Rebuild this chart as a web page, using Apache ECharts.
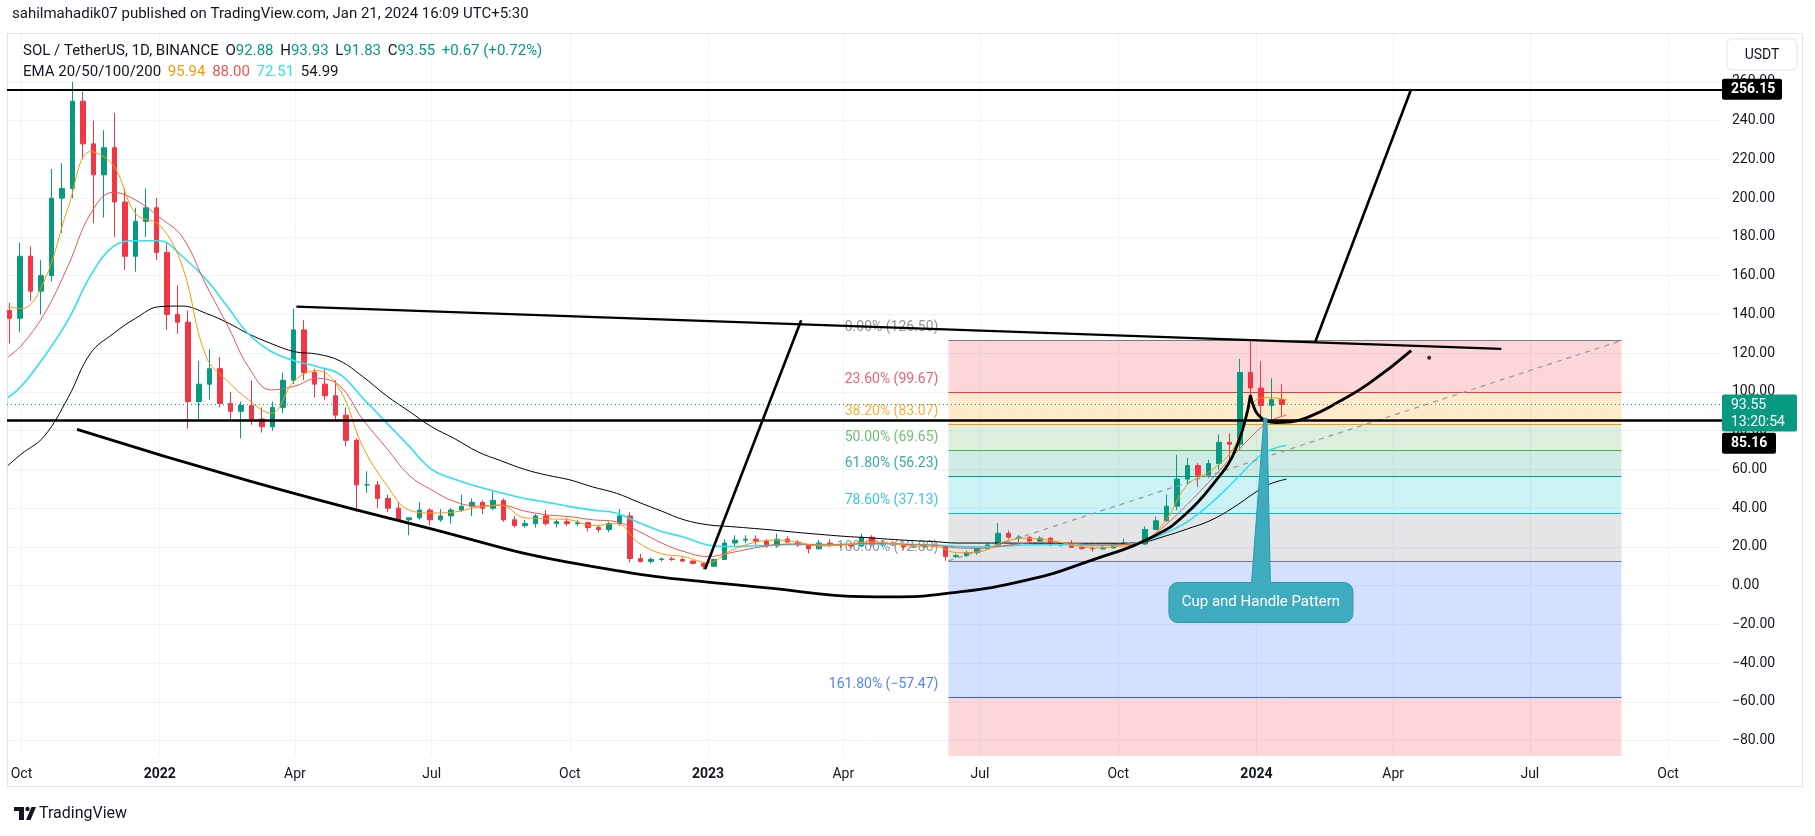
<!DOCTYPE html>
<html>
<head>
<meta charset="utf-8">
<title>SOL / TetherUS 1D</title>
<script src="https://cdn.jsdelivr.net/npm/echarts@6.0.0/dist/echarts.min.js"></script>
<style>
  html, body { margin: 0; padding: 0; background: #fff; }
  #chart { width: 1815px; height: 836px; }
</style>
</head>
<body>
<div id="chart"></div>
<script>
// weekly candles (mid-week date)
const weekDates = [
  '2021-09-23','2021-09-30','2021-10-07','2021-10-14','2021-10-21','2021-10-28','2021-11-04','2021-11-11','2021-11-18','2021-11-25','2021-12-02','2021-12-09','2021-12-16','2021-12-23','2021-12-30',
  '2022-01-06','2022-01-13','2022-01-20','2022-01-27','2022-02-03','2022-02-10','2022-02-17','2022-02-24','2022-03-03','2022-03-10','2022-03-17','2022-03-24','2022-03-31','2022-04-07','2022-04-14','2022-04-21','2022-04-28','2022-05-05','2022-05-12','2022-05-19','2022-05-26','2022-06-02','2022-06-09','2022-06-16','2022-06-23','2022-06-30','2022-07-07','2022-07-14','2022-07-21','2022-07-28','2022-08-04','2022-08-11','2022-08-18','2022-08-25','2022-09-01','2022-09-08','2022-09-15','2022-09-22','2022-09-29','2022-10-06','2022-10-13','2022-10-20','2022-10-27','2022-11-03','2022-11-10','2022-11-17','2022-11-24','2022-12-01','2022-12-08','2022-12-15','2022-12-22','2022-12-29',
  '2023-01-05','2023-01-12','2023-01-19','2023-01-26','2023-02-02','2023-02-09','2023-02-16','2023-02-23','2023-03-02','2023-03-09','2023-03-16','2023-03-23','2023-03-30','2023-04-06','2023-04-13','2023-04-20','2023-04-27','2023-05-04','2023-05-11','2023-05-18','2023-05-25','2023-06-01','2023-06-08','2023-06-15','2023-06-22','2023-06-29','2023-07-06','2023-07-13','2023-07-20','2023-07-27','2023-08-03','2023-08-10','2023-08-17','2023-08-24','2023-08-31','2023-09-07','2023-09-14','2023-09-21','2023-09-28','2023-10-05','2023-10-12','2023-10-19','2023-10-26','2023-11-02','2023-11-09','2023-11-16','2023-11-23','2023-11-30','2023-12-07','2023-12-14','2023-12-21','2023-12-28',
  '2024-01-04','2024-01-11','2024-01-18'
];
const opens = [
  142,138,170,152,160,200,205,250,228,212,226,198,170,188,195,
  172,140,136,95,104,112,94,90,93,86,82,92,106,132,110,104,98,88,75,52,52,45,40,34,35,39,34,36,39,41,43,40,44,34,31,32,36,32,33,32,32.5,30,29,32,36,14,12.5,13.5,13.8,13.5,12.7,11.5,
  10,13.5,22,23.5,24,23,20.5,24,22.5,21,19,22,21,21,20.5,25,21,22,21,20,20,21,20.5,15,15.5,17,19,21,27,25,25,23,24.5,21,21.5,19.8,19.2,19,19.5,21.5,22,21.5,29,33.5,41,55,62,57,63,74,73,110,
  102,93,96
];
const highs = [
  146,177,175,168,215,218,260,255,240,235,244,205,195,205,200,
  177,155,142,116,122,118,100,95,106,92,95,110,143,137,112,112,106,92,76,59,54,47,43,35,43,40,39.5,40,47,45,44,48.6,45,36,34,37,39,34,35,34,33,31,33,39.5,38,16.5,14.5,14.5,14.8,14.5,13,12,
  14,24,26,26,26,24,26.8,25.5,23.5,21.5,23.5,24,22,22,26.8,26,23.5,23,21.5,21,21.5,21.9,21,16.5,18,19.5,22,32.3,28.5,26,25.5,25.5,25,22,23.5,20.5,20,21,22,24.4,22.5,30.6,35.7,47,67.4,66,63.2,65,78,78.6,117,126.5,
  116,107,104
];
const lows = [
  125,131,147,140,157,182,200,220,187,190,180,163,162,180,168,
  132,130,81,86,96,92,86,76,83,79,80,89,104,106,97,96,85,72,38,48,40,38,33,26,34,31,33,32,38,36,37,39,33,30,30,30,31,30,31,31,28,27.5,27.5,31,12,12,11.5,12.5,12.8,12.5,11,8.5,
  9.8,13.5,20,22,21,19.5,19.5,22,20,16.7,18.8,20,19.5,19.5,20,20.5,20,20.5,18.8,19.5,19.5,19.8,12.8,14.3,15,16,18.5,20.5,24,22.5,22,22.5,20.5,20.2,19.5,18.5,17.6,18.5,19,21,20.5,21,28.8,33,39,52,51,55.5,60,64.9,70,95,
  86,84,87
];
const closes = [
  138,170,152,160,200,205,250,228,212,226,198,170,188,195,172,
  140,136,95,104,112,94,90,93,86,82,92,106,132,110,104,98,88,75,52,52,45,40,34,35,39,34,36,39,41,43,40,44,34,31,32,36,32,33,32,32.5,30,29,32,36,14,12.5,13.5,13.8,13.5,12.7,11.5,10,
  13.5,22,23.5,24,23,20.5,24,22.5,21,19,22,21,21,20.5,25,21,22,21,20,20,21,20.5,15,15.5,17,19,21,27,25,25,23,24.5,21,21.5,19.8,19.2,19,19.5,21.5,22,21.5,29,33.5,41,55,62,57,63,74,73,110,102,
  93,96,93.55
];

// EMA 20/50/100/200, read every half month
const emaDates = [
  '2021-09-22','2021-10-01','2021-10-16','2021-11-01','2021-11-16','2021-12-01','2021-12-16',
  '2022-01-01','2022-01-16','2022-02-01','2022-02-16','2022-03-01','2022-03-16','2022-04-01','2022-04-16','2022-05-01','2022-05-16','2022-06-01','2022-06-16','2022-07-01','2022-07-16','2022-08-01','2022-08-16','2022-09-01','2022-09-16','2022-10-01','2022-10-16','2022-11-01','2022-11-16','2022-12-01','2022-12-16',
  '2023-01-01','2023-01-16','2023-02-01','2023-02-16','2023-03-01','2023-03-16','2023-04-01','2023-04-16','2023-05-01','2023-05-16','2023-06-01','2023-06-16','2023-07-01','2023-07-16','2023-08-01','2023-08-16','2023-09-01','2023-09-16','2023-10-01','2023-10-16','2023-11-01','2023-11-16','2023-12-01','2023-12-16',
  '2024-01-01','2024-01-10','2024-01-21'
];
const ema20 = [
  144,143,157,195,224,217,192,
  186,165,118,105,96,89,106,111,101,72,52,39,37.5,38,40.5,41.5,35,34.5,34,31,32,22,16.5,15,
  11.8,18,22.3,23.5,22.5,20.5,21,22.5,22,20.5,20.3,17,17.5,22.5,24.5,23.5,21,19.5,20.3,22,33,52,59,70,
  96,97,95.94
];
const ema50 = [
  118,124,140,165,192,203,199,
  190,180,155,133,113,101,103,107,103,86,71,57,49.4,43.5,41,41.6,38.5,36.5,35.6,34,33,28,22,17.6,
  15,17,19.5,21.2,21.5,21,21.2,21.8,21.8,21.2,20.8,19.5,19.3,20.5,22,22.4,21.8,21,21.2,22,31,42,54,66.6,
  79.5,85,88
];
const ema100 = [
  97,103,118,137,160,175,178,
  178,170,158,143,130,121,116,113,109,97,84,72,60,55,51,48,45,43,40.8,39,37.4,32.5,28,25,
  21,20.2,20.5,21,21.3,21.2,21.3,21.5,21.5,21.3,21,20.3,20,20.5,21,21.2,21,20.8,21,22.5,27,33,42,53,
  65.5,70,72.51
];
const ema200 = [
  62,68,77,97,120,130,138,
  144,144.3,140.5,135.4,130,125,120.7,119.5,116,108,98,90,82,76,69,64.5,60,57,54.6,51,47.7,43,38.5,34,
  31.4,30.5,29.5,28.5,27.5,26.5,25.5,24.8,24,23.3,22.7,22,22,22,21.9,21.9,21.9,21.9,21.9,22.3,25.5,29.3,33.5,40,
  48.5,52.5,54.99
];

// Fibonacci retracement drawn from the Jun 2023 low to the Dec 2023 high
const fibStart = '2023-06-10';
const fibEnd = '2024-08-31';
const fibRatios = ['0.00%', '23.60%', '38.20%', '50.00%', '61.80%', '78.60%', '100.00%', '161.80%'];
const fibPrices = [126.50, 99.67, 83.07, 69.65, 56.23, 37.13, 12.80, -57.47];
const fibExtPrice = -171.17;   // 261.8% level, below the visible range

// hand drawn lines
const trendDates = ['2022-04-02', '2024-06-12'];
const trendValues = [144, 122.2];
const pole1Dates = ['2022-12-30', '2023-03-04'];
const pole1Values = [8.5, 137];
const pole2Dates = ['2024-02-09', '2024-04-13'];
const pole2Values = [125.5, 256.2];
const cupDates = ['2021-11-07','2022-03-02','2022-06-21','2022-10-10','2023-02-11','2023-05-02','2023-06-10','2023-08-01','2023-09-14','2023-10-24','2023-11-15','2023-12-07','2023-12-16','2023-12-24','2023-12-28'];
const cupValues = [80.7, 54, 31.3, 10.7, -1.3, -5.8, -3.9, 2.9, 13.3, 25.3, 37, 56.2, 66.6, 83.8, 98.4];
const handleDates = ['2023-12-28','2023-12-31','2024-01-03','2024-01-07','2024-01-14','2024-01-24','2024-02-06','2024-02-23','2024-03-16','2024-04-13'];
const handleValues = [98.4, 90.7, 87.6, 85.2, 84.2, 84.6, 87.5, 94.1, 104.4, 121.3];
const dotPoint = ['2024-04-25', 117.6];
const resistance = 256.15;
const support = 85.16;
const lastPrice = 93.55;
const calloutTip = ['2024-01-07', 86.4];
const calloutAt = ['2024-01-04', -8.7];

// axes
const priceTicks = [-80, -60, -40, -20, 0, 20, 40, 60, 80, 100, 120, 140, 160, 180, 200, 220, 240, 260];
const timeTicks = ['2021-10-01','2022-01-01','2022-04-01','2022-07-01','2022-10-01','2023-01-01','2023-04-01','2023-07-01','2023-10-01','2024-01-01','2024-04-01','2024-07-01','2024-10-01'];

const DAY = 86400000;
const MONTHS = ['Jan','Feb','Mar','Apr','May','Jun','Jul','Aug','Sep','Oct','Nov','Dec'];
const FONT = 'Roboto, "Noto Sans", sans-serif';
const TXT = '#131722';
const UP = '#089981', DOWN = '#f23645';
const fibColors = ['#787b86', '#f23645', '#ff9800', '#4caf50', '#089981', '#00bcd4', '#787b86', '#2962ff'];
const fibExtColor = '#f23645';

function ts(s) { const p = s.split('-').map(Number); return Date.UTC(p[0], p[1] - 1, p[2]); }
function fmtPrice(v) { return (v < 0 ? '\u2212' : '') + Math.abs(v).toFixed(2); }
function fade(hex, a) {
  const n = parseInt(hex.slice(1), 16);
  return 'rgba(' + (n >> 16) + ',' + ((n >> 8) & 255) + ',' + (n & 255) + ',' + a + ')';
}
function pairs(dates, values) { return dates.map((d, i) => [ts(d), values[i]]); }

const xMin = ts('2022-01-01') - 101.64 * DAY;
const xMax = ts('2022-01-01') + 1039.9 * DAY;
const yMin = -87.9, yMax = 284.7;

const chart = echarts.init(document.getElementById('chart'));

const candles = weekDates.map((d, i) => [ts(d), opens[i], closes[i], lows[i], highs[i]]);

// fib zones: each band takes the colour of its lower level
const fibZones = [];
for (let i = 0; i < fibPrices.length - 1; i++) {
  fibZones.push([
    { xAxis: ts(fibStart), yAxis: fibPrices[i], itemStyle: { color: fade(fibColors[i + 1], 0.2) } },
    { xAxis: ts(fibEnd), yAxis: fibPrices[i + 1] }
  ]);
}
fibZones.push([
  { xAxis: ts(fibStart), yAxis: fibPrices[fibPrices.length - 1], itemStyle: { color: fade(fibExtColor, 0.2) } },
  { xAxis: ts(fibEnd), yAxis: Math.max(fibExtPrice, yMin) }
]);
const fibLines = fibPrices.map((p, i) => [
  { coord: [ts(fibStart), p], lineStyle: { color: fibColors[i], width: 1, type: 'solid' } },
  { coord: [ts(fibEnd), p] }
]);
const fibLabels = fibPrices.map((p, i) => ({
  value: [ts(fibStart), p],
  label: { formatter: fibRatios[i] + ' (' + fmtPrice(p) + ')', color: fibColors[i] }
}));

function drawLine(dates, values, width, extra) {
  return Object.assign({
    type: 'line', data: pairs(dates, values), showSymbol: false, symbol: 'none', silent: true, z: 6,
    lineStyle: { color: '#000', width: width }
  }, extra || {});
}
function emaLine(values, color, width) {
  return {
    type: 'line', data: pairs(emaDates, values), showSymbol: false, symbol: 'none', silent: true,
    smooth: 0.4, z: 4, lineStyle: { color: color, width: width }
  };
}

chart.setOption({
  animation: false,
  backgroundColor: '#fff',
  grid: { left: 7, right: 93, top: 34, bottom: 80 },
  xAxis: {
    type: 'value', min: xMin, max: xMax,
    axisLine: { show: false }, axisTick: { show: false }, splitLine: { show: false },
    axisLabel: {
      customValues: timeTicks.map(ts), color: TXT, fontSize: 14, fontFamily: FONT, margin: 11,
      formatter: v => {
        const d = new Date(v);
        return d.getUTCMonth() === 0 ? '{y|' + d.getUTCFullYear() + '}' : MONTHS[d.getUTCMonth()];
      },
      rich: { y: { fontWeight: 'bold', color: TXT, fontSize: 14, fontFamily: FONT } }
    }
  },
  yAxis: {
    type: 'value', position: 'right', min: yMin, max: yMax,
    axisLine: { show: false }, axisTick: { show: false }, splitLine: { show: false },
    axisLabel: { customValues: priceTicks, formatter: fmtPrice, color: TXT, fontSize: 14, fontFamily: FONT, margin: 10 }
  },
  series: [
    {
      type: 'line', data: [], silent: true,
      markLine: {
        silent: true, symbol: 'none', z: 0, label: { show: false },
        lineStyle: { color: '#f0f3fa', width: 1, type: 'solid' },
        data: priceTicks.map(v => ({ yAxis: v })).concat(timeTicks.map(d => ({ xAxis: ts(d) })))
      }
    },
    {
      type: 'line', data: [], silent: true,
      markArea: { silent: true, z: 1, data: fibZones },
      markLine: { silent: true, symbol: 'none', z: 1, label: { show: false }, data: fibLines }
    },
    {
      type: 'scatter', data: fibLabels, symbolSize: 0, silent: true, z: 2,
      label: { show: true, position: 'left', distance: 10, offset: [0, -13], fontSize: 14, fontFamily: FONT }
    },
    {
      type: 'candlestick', data: candles, encode: { x: 0, y: [1, 2, 3, 4] }, barWidth: 5, silent: true, z: 3,
      itemStyle: { color: UP, color0: DOWN, borderColor: UP, borderColor0: DOWN, borderWidth: 1 }
    },
    emaLine(ema200, '#000000', 1),
    emaLine(ema100, '#2ee2f0', 1.6),
    emaLine(ema50, '#ef5350', 1),
    emaLine(ema20, '#ff9800', 1),
    drawLine([fibStart, fibEnd], [fibPrices[6], fibPrices[0]], 1, { lineStyle: { color: '#9598a1', width: 1.2, type: [5, 5] }, z: 5 }),
    drawLine(trendDates, trendValues, 2.2),
    drawLine(pole1Dates, pole1Values, 2.6),
    drawLine(pole2Dates, pole2Values, 2.6),
    drawLine(cupDates, cupValues, 2.8, { smooth: 0.5 }),
    drawLine(handleDates, handleValues, 2.8, { smooth: 0.5 }),
    {
      type: 'scatter', data: [[ts(dotPoint[0]), dotPoint[1]]], symbolSize: 4, silent: true, z: 6,
      itemStyle: { color: '#000' }
    },
    {
      type: 'line', data: [], silent: true,
      markLine: {
        silent: true, symbol: 'none', z: 7, label: { show: false },
        data: [
          { yAxis: resistance, lineStyle: { color: '#000', width: 2.2, type: 'solid' } },
          { yAxis: support, lineStyle: { color: '#000', width: 2.6, type: 'solid' } },
          { yAxis: lastPrice, lineStyle: { color: UP, width: 1, type: [1, 3] } }
        ]
      }
    }
  ]
});

// overlays: header, frame, price tags, callout
const gridRight = chart.convertToPixel({ gridIndex: 0 }, [xMax, 0])[0];
const yRes = chart.convertToPixel({ gridIndex: 0 }, [xMax, resistance])[1];
const ySup = chart.convertToPixel({ gridIndex: 0 }, [xMax, support])[1];
const yLast = chart.convertToPixel({ gridIndex: 0 }, [xMax, lastPrice])[1];
const tip = chart.convertToPixel({ gridIndex: 0 }, [ts(calloutTip[0]), calloutTip[1]]);
const mid = chart.convertToPixel({ gridIndex: 0 }, [ts(calloutAt[0]), calloutAt[1]]);
const boxW = 184, boxH = 40;
const boxTop = mid[1] - boxH / 2;
const CALLOUT = '#3eacbe', CALLOUT_EDGE = '#2a9aab';

const tagFont = { fontSize: 14, fontWeight: 'bold', fontFamily: FONT, fill: '#fff' };

chart.setOption({
  graphic: [
    { type: 'rect', z: 0, silent: true, shape: { x: 7.5, y: 33.5, width: 1795, height: 753 },
      style: { fill: 'none', stroke: '#e0e3eb', lineWidth: 1 } },
    { type: 'text', left: 12, top: 7, silent: true,
      style: { text: 'sahilmahadik07 published on TradingView.com, Jan 21, 2024 16:09 UTC+5:30', fill: TXT, fontSize: 15, fontFamily: FONT } },
    { type: 'text', left: 23, top: 44, silent: true, z: 20,
      style: {
        text: '{a|SOL / TetherUS, 1D, BINANCE}  {a|O}{g|92.88}  {a|H}{g|93.93}  {a|L}{g|91.83}  {a|C}{g|93.55}  {g|+0.67 (+0.72%)}',
        rich: {
          a: { fill: TXT, fontSize: 15, fontFamily: FONT },
          g: { fill: UP, fontSize: 15, fontFamily: FONT }
        }
      } },
    { type: 'text', left: 23, top: 65, silent: true, z: 20,
      style: {
        text: '{a|EMA 20/50/100/200}  {o|95.94}  {r|88.00}  {c|72.51}  {a|54.99}',
        rich: {
          a: { fill: TXT, fontSize: 15, fontFamily: FONT },
          o: { fill: '#ff9800', fontSize: 15, fontFamily: FONT },
          r: { fill: '#ef5350', fontSize: 15, fontFamily: FONT },
          c: { fill: '#2ee2f0', fontSize: 15, fontFamily: FONT }
        }
      } },
    // currency button
    { type: 'rect', z: 20, silent: true, shape: { x: 1727, y: 39, width: 70, height: 31, r: 5 },
      style: { fill: '#fff', stroke: '#e0e3eb', lineWidth: 1 } },
    { type: 'text', z: 21, silent: true, x: 1762, y: 55,
      style: { text: 'USDT', fill: TXT, fontSize: 14, fontFamily: FONT, align: 'center', verticalAlign: 'middle' } },
    // price tags
    { type: 'rect', z: 30, silent: true, shape: { x: gridRight, y: yRes - 10.5, width: 60, height: 21, r: 2 }, style: { fill: '#000' } },
    { type: 'text', z: 31, silent: true, x: gridRight + 9, y: yRes + 0.5,
      style: Object.assign({ text: fmtPrice(resistance), verticalAlign: 'middle' }, tagFont) },
    { type: 'rect', z: 30, silent: true, shape: { x: gridRight, y: yLast - 10, width: 75, height: 37, r: 2 }, style: { fill: UP } },
    { type: 'text', z: 31, silent: true, x: gridRight + 9, y: yLast + 1,
      style: { text: fmtPrice(lastPrice), fill: '#fff', fontSize: 14, fontFamily: FONT, verticalAlign: 'middle' } },
    { type: 'text', z: 31, silent: true, x: gridRight + 9, y: yLast + 18.5,
      style: { text: '13:20:54', fill: '#fff', fontSize: 14, fontFamily: FONT, verticalAlign: 'middle' } },
    { type: 'rect', z: 30, silent: true, shape: { x: gridRight, y: ySup + 12, width: 54, height: 21, r: 2 }, style: { fill: '#000' } },
    { type: 'text', z: 31, silent: true, x: gridRight + 9, y: ySup + 23,
      style: Object.assign({ text: fmtPrice(support), verticalAlign: 'middle' }, tagFont) },
    // callout
    { type: 'polygon', z: 40, silent: true,
      shape: { points: [[mid[0] - 9.5, boxTop + 2], [mid[0] + 9.5, boxTop + 2], [tip[0] + 1.5, tip[1]], [tip[0] - 1.5, tip[1]]] },
      style: { fill: CALLOUT, stroke: CALLOUT_EDGE, lineWidth: 1 } },
    { type: 'rect', z: 41, silent: true,
      shape: { x: mid[0] - boxW / 2, y: boxTop, width: boxW, height: boxH, r: 9 },
      style: { fill: CALLOUT, stroke: CALLOUT_EDGE, lineWidth: 1 } },
    { type: 'rect', z: 42, silent: true,
      shape: { x: mid[0] - 8.8, y: boxTop - 1, width: 17.6, height: 3 }, style: { fill: CALLOUT } },
    { type: 'text', z: 43, silent: true, x: mid[0], y: mid[1],
      style: { text: 'Cup and Handle Pattern', fill: '#fff', fontSize: 15, fontFamily: FONT, align: 'center', verticalAlign: 'middle' } },
    // TradingView mark
    { type: 'rect', z: 20, silent: true, shape: { x: 14, y: 807, width: 10, height: 4 }, style: { fill: TXT } },
    { type: 'rect', z: 20, silent: true, shape: { x: 19, y: 807, width: 5, height: 13 }, style: { fill: TXT } },
    { type: 'circle', z: 20, silent: true, shape: { cx: 27.5, cy: 809, r: 2.2 }, style: { fill: TXT } },
    { type: 'polygon', z: 20, silent: true, shape: { points: [[26, 820], [31.5, 807], [36, 807], [30.5, 820]] }, style: { fill: TXT } },
    { type: 'text', z: 20, silent: true, x: 39, y: 814,
      style: { text: 'TradingView', fill: TXT, fontSize: 16, fontFamily: FONT, verticalAlign: 'middle' } }
  ]
});
</script>
</body>
</html>
